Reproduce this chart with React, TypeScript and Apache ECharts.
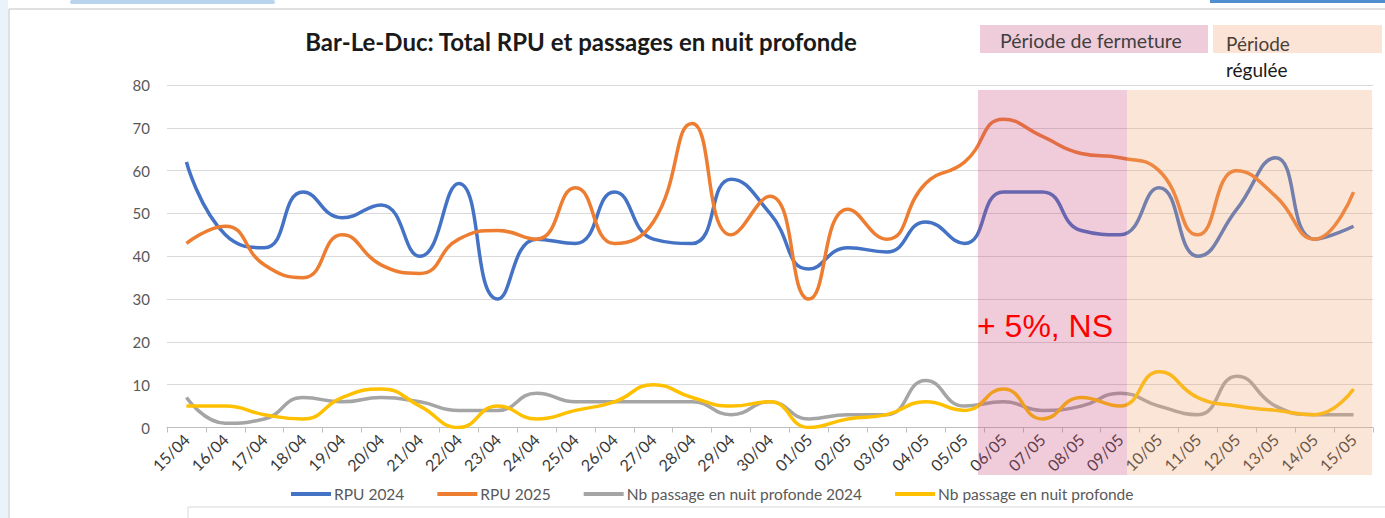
import React, { useEffect, useRef } from "react";
import * as echarts from "echarts";

const categories = [
  "15/04", "16/04", "17/04", "18/04", "19/04", "20/04", "21/04", "22/04", "23/04", "24/04",
  "25/04", "26/04", "27/04", "28/04", "29/04", "30/04", "01/05", "02/05", "03/05", "04/05",
  "05/05", "06/05", "07/05", "08/05", "09/05", "10/05", "11/05", "12/05", "13/05", "14/05", "15/05",
];
const rpu2024 = [62, 45, 42, 55, 49, 52, 40, 57, 30, 44, 43, 55, 44, 43, 58, 50, 37, 42, 41, 48, 43, 55, 55, 46, 45, 56, 40, 51, 63, 44, 47];
const rpu2025 = [43, 47, 38, 35, 45, 38, 36, 44, 46, 44, 56, 43, 48, 71, 45, 54, 30, 51, 44, 57, 62, 72, 68, 64, 63, 60, 45, 60, 54, 44, 55];
const nuit2024 = [7, 1, 2, 7, 6, 7, 6, 4, 4, 8, 6, 6, 6, 6, 3, 6, 2, 3, 3, 11, 5, 6, 4, 5, 8, 5, 3, 12, 5, 3, 3];
const nuit2025 = [5, 5, 3, 2, 7, 9, 5, 0, 5, 2, 4, 6, 10, 7, 5, 6, 0, 2, 3, 6, 4, 9, 2, 7, 5, 13, 7, 5, 4, 3, 9];
const seriesNames = ["RPU 2024", "RPU 2025", "Nb passage en nuit profonde 2024", "Nb passage en nuit profonde"];
const seriesColors = ["#4472C4", "#ED7D31", "#A5A5A5", "#FFC000"];
const yTicks = { min: 0, max: 80, interval: 10 };

const FONT = "Lato, 'Open Sans', sans-serif";

export default function App() {
  const ref = useRef<HTMLDivElement>(null);
  useEffect(() => {
    const chart = echarts.init(ref.current!, null, { renderer: "svg" });
    const data = [rpu2024, rpu2025, nuit2024, nuit2025];
    chart.setOption({
      animation: false,
      backgroundColor: "#ffffff",
      title: {
        text: "Bar-Le-Duc: Total RPU et passages en nuit profonde",
        left: 576,
        top: 24,
        textAlign: "center",
        textStyle: { fontFamily: FONT, fontSize: 24, fontWeight: "bold", color: "#1a1a1a" },
      },
      legend: {
        left: 291,
        top: 486,
        padding: 0,
        itemWidth: 40,
        itemHeight: 4,
        itemGap: 33,
        icon: "rect",
        textStyle: { fontFamily: FONT, fontSize: 15.5, color: "#595959", padding: [0, 0, 0, -2] },
        data: seriesNames,
      },
      grid: { left: 167, right: 12, top: 85, bottom: 90.5, containLabel: false },
      xAxis: {
        type: "category",
        data: categories,
        boundaryGap: true,
        axisLine: { lineStyle: { color: "#BFBFBF", width: 1 } },
        axisTick: { show: true, length: 5, lineStyle: { color: "#BFBFBF" } },
        axisLabel: { rotate: 45, fontFamily: FONT, fontSize: 16, color: "#3a3a3a", margin: 9, interval: 0 },
      },
      yAxis: {
        type: "value",
        min: yTicks.min,
        max: yTicks.max,
        interval: yTicks.interval,
        axisLine: { show: false },
        axisTick: { show: false },
        axisLabel: { fontFamily: FONT, fontSize: 15, color: "#595959", margin: 17 },
        splitLine: { lineStyle: { color: "#D9D9D9", width: 1 } },
      },
      series: data.map((d, i) => ({
        name: seriesNames[i],
        type: "line",
        data: d,
        smooth: 0.5,
        symbol: "none",
        color: seriesColors[i],
        lineStyle: { width: 3.5, color: seriesColors[i] },
        z: 2 + (i < 2 ? 1 : 0),
      })),
      graphic: [
        { type: "rect", z: 50, shape: { x: 0, y: 0, width: 8, height: 518 }, style: { fill: "#EAF3FB" } },
        { type: "line", z: 50, shape: { x1: 9, y1: 9, x2: 1385, y2: 9 }, style: { stroke: "#D6D6D6", lineWidth: 1.5 } },
        { type: "line", z: 50, shape: { x1: 9, y1: 9, x2: 9, y2: 518 }, style: { stroke: "#D6D6D6", lineWidth: 1.5 } },
        { type: "rect", z: 50, shape: { x: 1210, y: 0, width: 175, height: 3 }, style: { fill: "#4F8FD0" } },
        { type: "rect", z: 50, shape: { x: 70, y: 0, width: 205, height: 4, r: 2 }, style: { fill: "#8DB8E2", opacity: 0.6 } },
        { type: "rect", z: 50, shape: { x: 980, y: 25, width: 228, height: 28 }, style: { fill: "#EFCCDA" } },
        { type: "text", z: 51, x: 1000, y: 40, style: { text: "Période de fermeture", fontFamily: FONT, fontSize: 19.5, fill: "#3F3F3F", verticalAlign: "middle" } },
        { type: "rect", z: 50, shape: { x: 1213, y: 25, width: 169, height: 28 }, style: { fill: "#FBE4D6" } },
        { type: "text", z: 51, x: 1226, y: 43, style: { text: "Période", fontFamily: FONT, fontSize: 19, fill: "#4a3f38", verticalAlign: "middle" } },
        { type: "text", z: 51, x: 1226, y: 69, style: { text: "régulée", fontFamily: FONT, fontSize: 19, fill: "#1a1a1a", verticalAlign: "middle" } },
        { type: "rect", z: 100, shape: { x: 978, y: 90, width: 149, height: 385 }, style: { fill: "rgba(201,73,123,0.28)" } },
        { type: "rect", z: 100, shape: { x: 1127, y: 90, width: 245, height: 385 }, style: { fill: "rgba(241,162,109,0.28)" } },
        { type: "text", z: 110, x: 977, y: 326, style: { text: "+ 5%, NS", fontFamily: "'Liberation Sans', Arial, sans-serif", fontSize: 32, fill: "#FF0000", verticalAlign: "middle" } },
        { type: "rect", z: 50, shape: { x: 188, y: 507, width: 1200, height: 20 }, style: { fill: "none", stroke: "#D9D9D9", lineWidth: 1 } },
      ],
    });
    return () => chart.dispose();
  }, []);
  return (
    <div
      ref={ref}
      style={{ position: "absolute", left: 0, top: 0, width: 1385, height: 518, background: "#fff" }}
    />
  );
}
